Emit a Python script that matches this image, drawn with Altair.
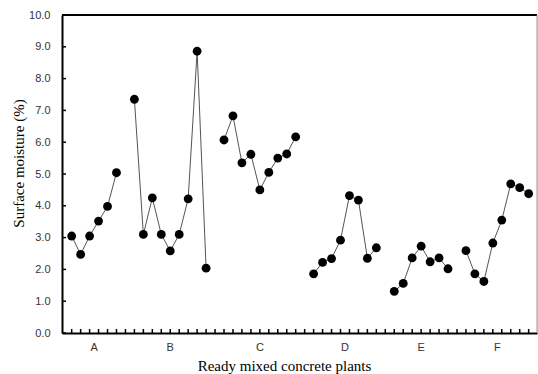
import altair as alt
import pandas as pd

plants = ["A", "B", "C", "D", "E", "F"]
vals_A = [3.05, 2.47, 3.05, 3.52, 3.98, 5.04]
vals_B = [7.35, 3.10, 4.25, 3.10, 2.58, 3.10, 4.22, 8.86, 2.04]
vals_C = [6.07, 6.83, 5.35, 5.62, 4.50, 5.05, 5.50, 5.63, 6.17]
vals_D = [1.86, 2.22, 2.34, 2.92, 4.32, 4.18, 2.35, 2.68]
vals_E = [1.31, 1.56, 2.36, 2.73, 2.24, 2.36, 2.02]
vals_F = [2.59, 1.86, 1.62, 2.83, 3.55, 4.69, 4.57, 4.38]
y_ticks = [0, 1, 2, 3, 4, 5, 6, 7, 8, 9, 10]

series = [vals_A, vals_B, vals_C, vals_D, vals_E, vals_F]

rows = []
label_rows = []
pos = 0
for name, vals in zip(plants, series):
    idxs = list(range(pos, pos + len(vals)))
    for i, v in zip(idxs, vals):
        rows.append({"plant": name, "idx": i, "val": v})
    label_rows.append({"plant": name, "idx": sum(idxs) / len(idxs)})
    pos += len(vals) + 1
n_slots = pos - 1

df = pd.DataFrame(rows)
labels_df = pd.DataFrame(label_rows)
xt_df = pd.DataFrame({"idx": list(range(n_slots))})
yt_df = pd.DataFrame({"val": y_ticks})
one = pd.DataFrame({"k": [0]})

W, H = 475, 318

xscale = alt.Scale(domain=[-1.08, 51.93], nice=False, zero=False)
yscale = alt.Scale(domain=[0, 10], nice=False)

xaxis = alt.Axis(
    ticks=False, labels=False, grid=False,
    domainColor="black", domainWidth=2,
    title="Ready mixed concrete plants",
    titleFont="Liberation Serif", titleFontSize=15, titleFontWeight="normal",
    titleColor="black", titleX=222, titleY=37, titleBaseline="alphabetic",
)
yaxis = alt.Axis(
    values=y_ticks, format=".1f", ticks=False, grid=False,
    domainColor="black", domainWidth=2,
    labelFont="Liberation Sans", labelFontSize=11, labelColor="#333",
    labelPadding=12,
    title="Surface moisture (%)",
    titleFont="Liberation Serif", titleFontSize=15, titleFontWeight="normal",
    titleColor="black", titleX=-36, titleY=148,
)

X = alt.X("idx:Q", scale=xscale, axis=xaxis)
Y = alt.Y("val:Q", scale=yscale, axis=yaxis)

xticks = alt.Chart(xt_df).mark_rule(color="black", strokeWidth=1.5).encode(
    x=X, y=alt.value(H), y2=alt.value(H - 4)
)
yticks = alt.Chart(yt_df).mark_rule(color="black", strokeWidth=1.5).encode(
    y=Y, x=alt.value(0), x2=alt.value(4)
)
lines = alt.Chart(df).mark_line(color="#555", strokeWidth=1).encode(
    x=X, y=Y, detail="plant:N"
)
points = alt.Chart(df).mark_circle(color="black", opacity=1, size=78).encode(
    x=X, y=Y
)
cat_labels = alt.Chart(labels_df).mark_text(
    font="Liberation Sans", fontSize=11, color="#333", baseline="middle"
).encode(x=X, y=alt.value(H + 15), text="plant:N")
top_border = alt.Chart(one).mark_rule(color="black", strokeWidth=2).encode(
    x=alt.value(0), x2=alt.value(W), y=alt.value(0)
)
right_border = alt.Chart(one).mark_rule(color="#999", strokeWidth=1).encode(
    x=alt.value(W), y=alt.value(0), y2=alt.value(H)
)

chart = alt.layer(
    xticks, yticks, lines, points, cat_labels, top_border, right_border
).properties(
    width=W, height=H,
    autosize=alt.AutoSizeParams(type="none"),
    padding={"left": 62, "top": 15, "right": 1, "bottom": 41},
).configure_view(stroke=None).configure(background="white")

chart.save("out.html", embed_options={"renderer": "svg", "actions": False})
